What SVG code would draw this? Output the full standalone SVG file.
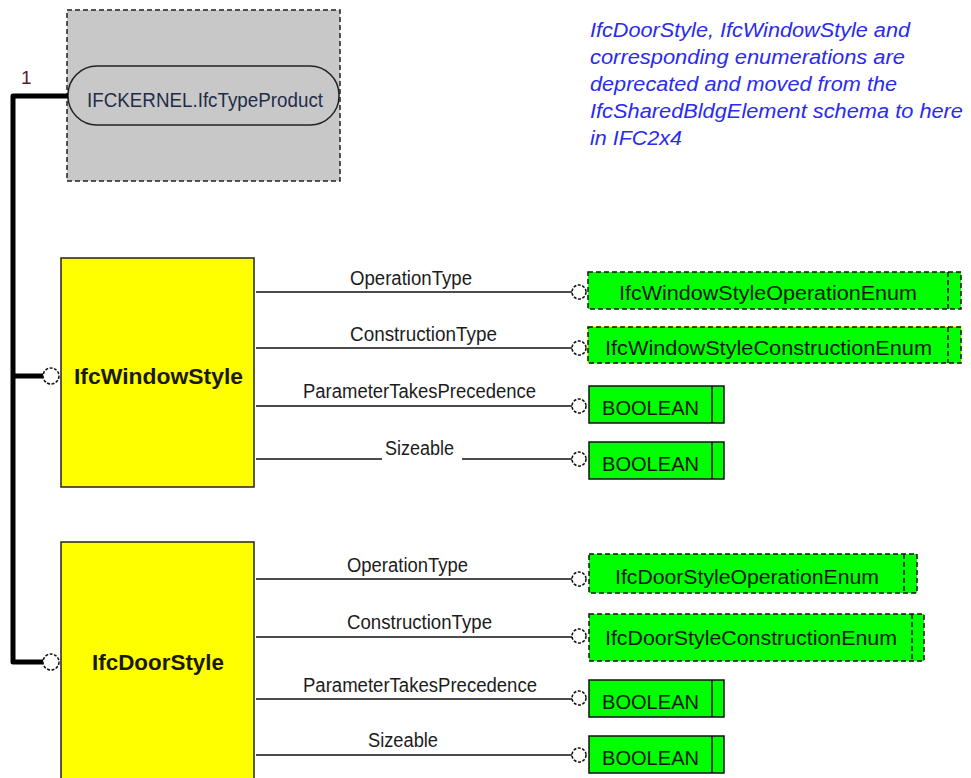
<svg xmlns="http://www.w3.org/2000/svg" width="971" height="778" viewBox="0 0 971 778">
<style>
.lbl{font-family:"Liberation Sans",Arial,sans-serif;font-size:20px;fill:#1c1c1c}
.etx{font-family:"Liberation Sans",Arial,sans-serif;font-size:20px;fill:#0a1a0a}
.ent{font-family:"Liberation Sans",Arial,sans-serif;font-size:22px;font-weight:bold;fill:#1a1a00}
.note{font-family:"Liberation Sans",Arial,sans-serif;font-size:20px;font-style:italic;fill:#2a2af0}
.yb{fill:#ffff00;stroke:#222;stroke-width:1.5}
.enum{fill:#00ff00;stroke:#111;stroke-width:1.5;stroke-dasharray:5,3}
.bool{fill:#00ff00;stroke:#111;stroke-width:1.5}
.ln{stroke:#111;stroke-width:1.5;fill:none}
.thick{stroke:#000;stroke-width:5;fill:none;stroke-linejoin:round}
.circ{fill:#fff;stroke:#111;stroke-width:1.5;stroke-dasharray:3,1.5}
</style>
<rect width="971" height="778" fill="#fff"/>

<g id="typeproduct">
<rect x="67" y="10" width="273" height="171" fill="#c8c8c8" stroke="#222" stroke-width="1.5" stroke-dasharray="5,3"/>
<rect x="68" y="66" width="271" height="59" rx="29" ry="29" fill="#c8c8c8" stroke="#222" stroke-width="1.5"/>
<text x="87" y="107" font-family="Liberation Sans, Arial, sans-serif" font-size="20" fill="#1f2d4a" textLength="236" lengthAdjust="spacingAndGlyphs">IFCKERNEL.IfcTypeProduct</text>
</g>

<g id="note">
<text class="note" x="590" y="37" textLength="320" lengthAdjust="spacingAndGlyphs">IfcDoorStyle, IfcWindowStyle and</text>
<text class="note" x="590" y="64" textLength="315" lengthAdjust="spacingAndGlyphs">corresponding enumerations are</text>
<text class="note" x="590" y="91" textLength="307" lengthAdjust="spacingAndGlyphs">deprecated and moved from the</text>
<text class="note" x="590" y="118" textLength="373" lengthAdjust="spacingAndGlyphs">IfcSharedBldgElement schema to here</text>
<text class="note" x="590" y="145" textLength="92" lengthAdjust="spacingAndGlyphs">in IFC2x4</text>
</g>

<g id="connectors">
<polyline class="thick" points="68,96 13,96 13,662 43,662"/>
<line class="thick" x1="13" y1="376" x2="43" y2="376"/>
<text x="21" y="84" font-family="Liberation Sans, Arial, sans-serif" font-size="19" fill="#5a1838">1</text>
<circle class="circ" cx="51" cy="376" r="8"/>
<circle class="circ" cx="51" cy="662" r="8"/>

<line class="ln" x1="256" y1="292" x2="572" y2="292"/>
<line class="ln" x1="256" y1="348" x2="572" y2="348"/>
<line class="ln" x1="256" y1="406" x2="572" y2="406"/>
<line class="ln" x1="256" y1="459" x2="382" y2="459"/>
<line class="ln" x1="462" y1="459" x2="572" y2="459"/>
<circle class="circ" cx="579" cy="292" r="7"/>
<circle class="circ" cx="579" cy="348" r="7"/>
<circle class="circ" cx="579" cy="406" r="7"/>
<circle class="circ" cx="579" cy="459" r="7"/>
<text class="lbl" x="350" y="285" textLength="122" lengthAdjust="spacingAndGlyphs">OperationType</text>
<text class="lbl" x="350" y="341" textLength="147" lengthAdjust="spacingAndGlyphs">ConstructionType</text>
<text class="lbl" x="303" y="398" textLength="233" lengthAdjust="spacingAndGlyphs">ParameterTakesPrecedence</text>
<text class="lbl" x="385" y="455" textLength="69" lengthAdjust="spacingAndGlyphs">Sizeable</text>

<line class="ln" x1="256" y1="579" x2="572" y2="579"/>
<line class="ln" x1="256" y1="637" x2="572" y2="637"/>
<line class="ln" x1="256" y1="699" x2="572" y2="699"/>
<line class="ln" x1="256" y1="755" x2="572" y2="755"/>
<circle class="circ" cx="579" cy="579" r="7"/>
<circle class="circ" cx="579" cy="636" r="7"/>
<circle class="circ" cx="579" cy="698" r="7"/>
<circle class="circ" cx="579" cy="755" r="7"/>
<text class="lbl" x="347" y="572" textLength="121" lengthAdjust="spacingAndGlyphs">OperationType</text>
<text class="lbl" x="347" y="629" textLength="145" lengthAdjust="spacingAndGlyphs">ConstructionType</text>
<text class="lbl" x="303" y="692" textLength="234" lengthAdjust="spacingAndGlyphs">ParameterTakesPrecedence</text>
<text class="lbl" x="368" y="747" textLength="70" lengthAdjust="spacingAndGlyphs">Sizeable</text>
</g>

<g id="windowstyle">
<rect class="yb" x="61" y="258" width="193" height="229"/>
<text class="ent" x="74" y="384" textLength="169" lengthAdjust="spacingAndGlyphs">IfcWindowStyle</text>
</g>

<g id="doorstyle">
<rect class="yb" x="61" y="542" width="193" height="240"/>
<text class="ent" x="92" y="670" textLength="132" lengthAdjust="spacingAndGlyphs">IfcDoorStyle</text>
</g>

<g id="ws-operation-enum">
<rect class="enum" x="588" y="272" width="373" height="37"/>
<line class="enum" x1="948" y1="272" x2="948" y2="309"/>
<text class="etx" x="619" y="300" textLength="298" lengthAdjust="spacingAndGlyphs">IfcWindowStyleOperationEnum</text>
</g>

<g id="ws-construction-enum">
<rect x="588" y="327" width="373" height="36" fill="#00ff00" stroke="#ffff00" stroke-width="1.5"/>
<rect class="enum" x="588" y="327" width="373" height="36" fill="none"/>
<line class="enum" x1="948" y1="327" x2="948" y2="363"/>
<text class="etx" x="605" y="355" textLength="327" lengthAdjust="spacingAndGlyphs">IfcWindowStyleConstructionEnum</text>
</g>

<g id="ws-bool-1">
<rect class="bool" x="589" y="386" width="135" height="37"/>
<line class="ln" x1="712" y1="386" x2="712" y2="423"/>
<text class="etx" x="602" y="415" textLength="97" lengthAdjust="spacingAndGlyphs">BOOLEAN</text>
</g>

<g id="ws-bool-2">
<rect class="bool" x="589" y="442" width="135" height="37"/>
<line class="ln" x1="712" y1="442" x2="712" y2="479"/>
<text class="etx" x="602" y="471" textLength="97" lengthAdjust="spacingAndGlyphs">BOOLEAN</text>
</g>

<g id="ds-operation-enum">
<rect class="enum" x="589" y="554" width="328" height="39"/>
<line class="enum" x1="904" y1="554" x2="904" y2="593"/>
<text class="etx" x="615" y="584" textLength="264" lengthAdjust="spacingAndGlyphs">IfcDoorStyleOperationEnum</text>
</g>

<g id="ds-construction-enum">
<rect class="enum" x="589" y="614" width="335" height="47"/>
<line class="enum" x1="912" y1="614" x2="912" y2="661"/>
<text class="etx" x="605" y="645" textLength="292" lengthAdjust="spacingAndGlyphs">IfcDoorStyleConstructionEnum</text>
</g>

<g id="ds-bool-1">
<rect class="bool" x="589" y="680" width="135" height="37"/>
<line class="ln" x1="712" y1="680" x2="712" y2="717"/>
<text class="etx" x="602" y="709" textLength="97" lengthAdjust="spacingAndGlyphs">BOOLEAN</text>
</g>

<g id="ds-bool-2">
<rect class="bool" x="589" y="736" width="135" height="37"/>
<line class="ln" x1="712" y1="736" x2="712" y2="773"/>
<text class="etx" x="602" y="765" textLength="97" lengthAdjust="spacingAndGlyphs">BOOLEAN</text>
</g>
</svg>
